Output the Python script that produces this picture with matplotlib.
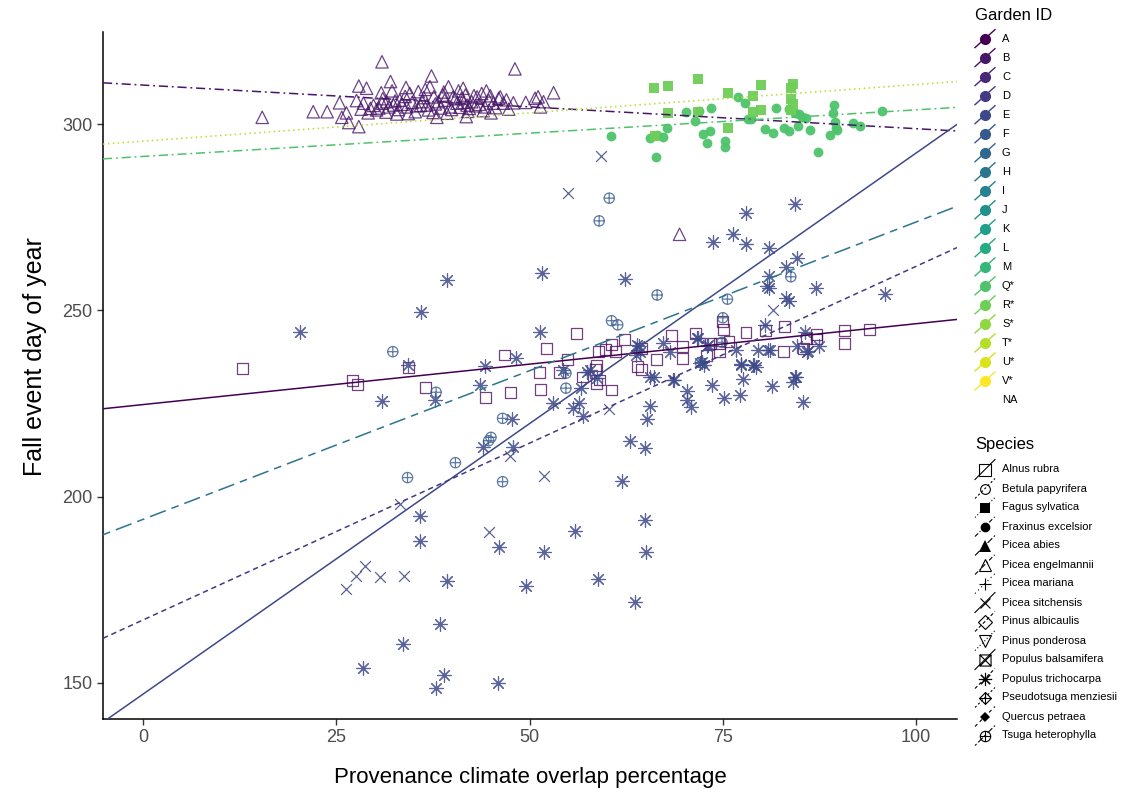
import numpy as np
import matplotlib
matplotlib.use("Agg")
import matplotlib.pyplot as plt
from matplotlib.path import Path
from matplotlib.lines import Line2D
from matplotlib.markers import MarkerStyle

plt.rcParams['font.family'] = ['Liberation Sans', 'DejaVu Sans']

# ---------------- data ----------------
gardens = ["A", "B", "C", "D", "E", "F", "G", "H", "I", "J", "K", "L", "M",
           "Q*", "R*", "S*", "T*", "U*", "V*"]
species = ["Alnus rubra", "Betula papyrifera", "Fagus sylvatica", "Fraxinus excelsior",
           "Picea abies", "Picea engelmannii", "Picea mariana", "Picea sitchensis",
           "Pinus albicaulis", "Pinus ponderosa", "Populus balsamifera",
           "Populus trichocarpa", "Pseudotsuga menziesii", "Quercus petraea",
           "Tsuga heterophylla"]

x_ticks = [0, 25, 50, 75, 100]
y_ticks = [150, 200, 250, 300]

# Picea engelmannii (garden B)
engelmannii_x = [15.4, 22.0, 23.8, 25.4, 26.3, 25.7, 26.6, 27.9, 27.9, 28.9,
                 27.6, 28.5, 30.9, 32.0, 29.4, 30.2, 30.9, 31.5, 32.4, 32.8,
                 33.2, 34.1, 34.5, 35.2, 35.6, 36.1, 36.7, 37.1, 37.3, 37.6,
                 38.2, 38.8, 39.5, 39.7, 40.1, 40.6, 41.2, 41.7, 41.9, 42.5,
                 43.2, 43.8, 44.2, 44.7, 45.3, 46.0, 46.2, 47.9, 48.1, 50.7,
                 51.1, 51.4, 53.1, 69.4,
                 29.8, 30.5, 31.0, 31.8, 32.6, 33.5, 33.9, 34.8, 35.4, 36.3,
                 36.9, 37.8, 38.5, 39.0, 39.9, 40.4, 41.0, 41.5, 42.2, 42.8,
                 43.5, 44.0, 44.9, 45.6, 46.6, 47.3, 33.0, 35.9, 38.9, 40.8,
                 43.0, 31.4, 34.3, 37.5, 39.3, 42.0, 45.0, 36.5, 41.4, 44.4,
                 29.1, 30.8, 28.2, 32.2, 47.0, 49.5, 51.8, 34.0, 38.0, 41.8]
engelmannii_y = [301.8, 303.3, 303.3, 305.7, 303.0, 301.8, 300.4, 299.3, 310.2, 309.6,
                 306.3, 305.6, 316.7, 311.4, 304.2, 303.8, 305.6, 306.0, 305.1, 302.7,
                 306.4, 304.6, 308.2, 303.3, 308.7, 306.0, 305.1, 310.0, 312.9, 307.3,
                 306.0, 307.8, 310.0, 304.6, 307.3, 305.6, 306.9, 307.8, 305.1, 306.0,
                 307.3, 308.2, 304.6, 306.4, 305.6, 306.9, 307.3, 305.7, 314.8, 306.9,
                 307.3, 304.6, 308.4, 270.4,
                 305.0, 304.3, 306.8, 304.6, 306.2, 305.3, 307.4, 305.8, 304.9, 307.1,
                 303.8, 305.4, 304.3, 306.4, 303.9, 306.8, 304.5, 305.8, 304.2, 307.6,
                 305.3, 303.6, 307.6, 304.4, 305.6, 304.0, 303.9, 305.0, 308.6, 308.9,
                 304.9, 303.2, 302.8, 303.1, 302.9, 303.4, 303.0, 309.3, 309.6, 308.9,
                 303.0, 308.4, 304.0, 308.9, 306.5, 305.8, 306.0, 309.8, 301.8, 302.0]

# Fraxinus excelsior (garden Q*)
fraxinus_x = [60.5, 65.6, 66.5, 67.2, 66.3, 67.8, 70.2, 71.4, 71.9, 73.5,
              72.4, 73.4, 72.9, 75.3, 75.3, 76.9, 77.9, 78.3, 78.7, 80.4,
              81.5, 81.9, 82.9, 83.6, 83.5, 84.3, 84.8, 85.3, 85.8, 84.7,
              86.3, 87.3, 88.9, 89.4, 89.3, 89.5, 89.7, 89.8, 91.9, 92.8, 95.6]
fraxinus_y = [296.8, 296.2, 297.1, 296.4, 291.1, 299.0, 303.1, 300.8, 303.6, 304.4,
              297.2, 298.1, 295.0, 295.4, 293.9, 307.2, 305.7, 301.3, 301.3, 298.7,
              297.5, 304.4, 299.0, 298.2, 304.0, 302.9, 302.6, 302.0, 301.5, 299.5,
              298.4, 292.6, 297.1, 305.1, 303.0, 300.6, 298.8, 298.4, 300.3, 299.5, 303.5]

# Fagus sylvatica (garden R*)
fagus_x = [66.1, 67.9, 71.8, 75.7, 67.9, 71.8, 66.2, 75.7, 78.9, 79.9,
           78.9, 79.9, 83.8, 84.1, 83.8, 84.1, 83.8]
fagus_y = [309.8, 310.2, 312.1, 308.2, 302.9, 303.3, 296.8, 298.8, 307.6, 310.5,
           303.1, 303.8, 309.6, 310.7, 306.6, 305.3, 303.8]

# Alnus rubra (garden A)
alnus_x = [12.9, 27.1, 27.7, 34.3, 36.5, 44.3, 46.8, 47.5, 52.2, 56.1,
           51.3, 51.4, 53.9, 54.9, 56.9, 58.5, 58.7, 59.1, 60.6, 58.9,
           59.8, 60.6, 61.1, 62.3, 58.7, 63.9, 64.5, 64.5, 66.4, 68.4,
           69.8, 69.8, 71.5, 72.9, 73.4, 74.6, 74.6, 75.1, 75.0, 75.8,
           78.0, 80.5, 82.8, 83.0, 85.4, 85.8, 87.1, 87.1, 90.8, 90.8, 94.0]
alnus_y = [234.4, 231.1, 230.0, 234.7, 229.3, 226.6, 238.0, 227.9, 239.8, 243.8,
           233.3, 228.8, 233.3, 236.7, 232.1, 234.0, 230.4, 231.3, 228.6, 238.9,
           239.4, 240.7, 238.9, 242.1, 235.3, 234.9, 234.0, 239.8, 236.9, 243.2,
           240.4, 237.1, 243.7, 237.8, 241.2, 241.2, 238.9, 244.9, 247.0, 241.6,
           244.0, 244.5, 238.9, 245.6, 239.8, 242.5, 243.6, 242.3, 244.7, 241.0, 244.9]

# Populus trichocarpa (garden E)
trichocarpa_x = [20.3, 35.9, 39.3, 34.3, 30.9, 37.7, 44.2, 43.6, 48.3, 47.7,
                 44.0, 47.9, 51.3, 54.3, 53.0, 55.6, 51.6, 62.4, 78.0, 84.3,
                 76.3, 73.7, 78.0, 81.0, 84.6, 83.2, 81.0, 80.7, 81.0, 83.2,
                 83.5, 87.1, 96.0, 80.5, 85.6, 71.6, 63.9, 67.3, 64.3, 68.2,
                 73.1, 76.7, 79.6, 81.1, 84.6, 85.9, 87.5, 56.4, 56.9, 56.7,
                 57.8, 58.7, 63.8, 65.6, 68.7, 70.3, 70.3, 70.9, 65.6, 65.2,
                 72.1, 72.5, 73.6, 75.2, 77.2, 77.3, 77.6, 79.0, 79.3, 81.4,
                 84.1, 84.5, 85.4, 63.0, 64.9, 35.8, 35.8, 46.1, 39.3, 49.5,
                 38.4, 33.6, 28.4, 38.9, 37.9, 45.9, 61.9, 64.9, 55.9, 51.9,
                 65.1, 58.8, 63.6, 57.4, 64.2, 66.1, 68.6, 71.8, 72.3, 72.9,
                 77.4, 78.9, 80.9, 86.0, 84.3]
trichocarpa_y = [244.1, 249.6, 258.1, 235.3, 225.7, 226.0, 235.1, 230.0, 237.1, 220.8,
                 213.4, 213.4, 244.3, 234.0, 225.1, 223.7, 260.0, 258.4, 276.2, 278.5,
                 270.5, 268.4, 267.8, 266.7, 264.0, 261.7, 259.2, 256.6, 255.9, 253.2,
                 252.6, 256.1, 254.3, 246.1, 244.3, 242.5, 240.7, 241.2, 238.7, 238.7,
                 240.7, 239.4, 239.4, 239.4, 240.3, 238.9, 240.3, 225.1, 221.5, 229.1,
                 234.0, 231.8, 238.0, 232.1, 231.3, 228.4, 225.8, 224.1, 224.4, 220.9,
                 235.8, 235.3, 230.0, 226.4, 227.3, 235.3, 231.5, 235.3, 234.9, 229.7,
                 230.7, 232.2, 225.4, 214.8, 213.0, 194.8, 188.2, 186.4, 177.4, 176.0,
                 165.8, 160.4, 154.1, 152.0, 148.6, 149.9, 204.2, 193.8, 190.8, 185.1,
                 185.1, 177.9, 171.6, 233.5, 240.3, 232.1, 231.3, 242.5, 236.0, 240.3,
                 235.6, 235.3, 239.4, 239.1, 232.1]

# Picea sitchensis (garden E)
sitchensis_x = [59.3, 55.0, 81.5, 60.3, 26.3, 27.6, 28.7, 30.6, 33.8, 33.2, 44.8, 47.5, 51.9]
sitchensis_y = [291.4, 281.6, 250.1, 223.5, 175.2, 178.6, 181.5, 178.3, 178.7, 198.0, 190.4, 210.9, 205.6]

# Tsuga heterophylla (garden F)
tsuga_x = [32.3, 37.9, 46.5, 44.7, 45.0, 60.3, 59.0, 66.5, 75.6, 75.0,
           83.8, 60.6, 61.4, 54.7, 54.7, 74.9, 34.2, 40.4, 46.5, 72.1]
tsuga_y = [238.9, 228.0, 221.0, 215.0, 215.9, 280.1, 274.0, 254.1, 253.0, 248.0,
           259.0, 247.2, 246.1, 233.1, 229.1, 241.4, 205.1, 209.1, 204.0, 236.0]

# fitted lines (species / garden / intercept / slope)
fit_species = ["Alnus rubra", "Picea engelmannii", "Picea sitchensis", "Populus trichocarpa",
               "Tsuga heterophylla", "Fraxinus excelsior", "Fagus sylvatica"]
fit_garden = ["A", "B", "E", "D", "H", "Q*", "T*"]
fit_intercept = [224.7, 310.45, 147.0, 166.9, 193.9, 291.3, 295.4]
fit_slope = [0.217, -0.117, 1.452, 0.949, 0.798, 0.125, 0.152]

# ---------------- styling helpers ----------------
garden_colors = {g: plt.cm.viridis(i / (len(gardens) - 1)) for i, g in enumerate(gardens)}

plus_path = Path([(-1, 0), (1, 0), (0, -1), (0, 1)],
                 [Path.MOVETO, Path.LINETO, Path.MOVETO, Path.LINETO])
circle_plus = Path.make_compound_path(Path.unit_circle(), plus_path)
sq = Path([(-1, -1), (1, -1), (1, 1), (-1, 1), (-1, -1)],
          [Path.MOVETO, Path.LINETO, Path.LINETO, Path.LINETO, Path.CLOSEPOLY])
xpath = Path([(-1, -1), (1, 1), (-1, 1), (1, -1)],
             [Path.MOVETO, Path.LINETO, Path.MOVETO, Path.LINETO])
square_x = Path.make_compound_path(sq, xpath)
dia = Path([(0, -1), (1, 0), (0, 1), (-1, 0), (0, -1)],
           [Path.MOVETO, Path.LINETO, Path.LINETO, Path.LINETO, Path.CLOSEPOLY])
diamond_plus = Path.make_compound_path(dia, plus_path)
asterisk = (8, 2, 0)

species_markers = ['s', 'o', 's', 'o', '^', '^', '+', 'x', 'D', 'v',
                   square_x, asterisk, diamond_plus, 'D', circle_plus]
species_filled = [False, False, True, True, True, False, False, False, False, False,
                  False, False, False, True, False]
species_msize = [8, 7, 7.5, 7, 8, 8.5, 9, 7.5, 7.5, 8, 8, 9.5, 8.5, 5, 7.5]
species_dash = ['solid', (0, (2, 2)), (0, (1, 2)), (0, (4, 2, 1, 2)), (0, (6, 2)),
                (0, (4, 2, 1, 2)), (0, (1, 3)), 'solid', (0, (3, 2)), (0, (1, 2)),
                'solid', (0, (3, 2)), (0, (2, 2)), (0, (3, 3)), (0, (2, 2, 6, 2))]
fit_dash = {"Alnus rubra": 'solid',
            "Picea engelmannii": (0, (6, 2.5, 1.2, 2.5)),
            "Picea sitchensis": 'solid',
            "Populus trichocarpa": (0, (3.5, 2.5)),
            "Tsuga heterophylla": (0, (5, 4, 11, 4)),
            "Fraxinus excelsior": (0, (6, 2.5, 1.2, 2.5)),
            "Fagus sylvatica": (0, (1, 2.2))}

# ---------------- figure ----------------
W, H = 1143, 792
fig = plt.figure(figsize=(W / 100, H / 100), dpi=100)
ax = fig.add_axes([103 / W, 1 - 719 / H, (957 - 103) / W, (719 - 32) / H])
ax.set_xlim(-5.2, 105.3)
ax.set_ylim(140.3, 324.7)


def pts(xs, ys, sp, garden, s, alpha, lw=0.9):
    i = species.index(sp)
    col = garden_colors[garden]
    mk = species_markers[i]
    if species_filled[i]:
        ax.scatter(xs, ys, s=s, marker=mk, color=col, alpha=alpha,
                   linewidths=0, zorder=2)
    elif not MarkerStyle(mk).is_filled():
        ax.scatter(xs, ys, s=s, marker=mk, color=col, alpha=alpha,
                   linewidths=lw, zorder=2)
    else:
        ax.scatter(xs, ys, s=s, marker=mk, facecolors='none',
                   edgecolors=[col], alpha=alpha, linewidths=lw, zorder=2)


pts(alnus_x, alnus_y, "Alnus rubra", "A", 62, 0.75)
pts(trichocarpa_x, trichocarpa_y, "Populus trichocarpa", "E", 95, 0.85, lw=0.85)
pts(sitchensis_x, sitchensis_y, "Picea sitchensis", "E", 60, 0.85)
pts(tsuga_x, tsuga_y, "Tsuga heterophylla", "F", 55, 0.8)
pts(engelmannii_x, engelmannii_y, "Picea engelmannii", "B", 80, 0.8)
pts(fraxinus_x, fraxinus_y, "Fraxinus excelsior", "Q*", 50, 0.95)
pts(fagus_x, fagus_y, "Fagus sylvatica", "R*", 52, 0.95)

for sp, g, b, m in zip(fit_species, fit_garden, fit_intercept, fit_slope):
    ax.axline((0, b), slope=m, color=garden_colors[g], linestyle=fit_dash[sp],
              linewidth=1.1, zorder=3)

for side in ['top', 'right']:
    ax.spines[side].set_visible(False)
for side in ['left', 'bottom']:
    ax.spines[side].set_color('black')
    ax.spines[side].set_linewidth(1.1)
ax.set_xticks(x_ticks)
ax.set_yticks(y_ticks)
ax.tick_params(axis='both', colors='#333333', labelcolor='#4d4d4d', labelsize=13,
               length=4, width=1.0)
ax.set_xlabel("Provenance climate overlap percentage", fontsize=16, labelpad=15)
ax.set_ylabel("Fall event day of year", fontsize=18)
ax.yaxis.set_label_coords(-0.066, 0.527)


# ---------------- legends (drawn in figure pixel space) ----------------
def fx(px):
    return px / W


def fy(py):
    return 1 - py / H


fig.text(fx(975), fy(15), "Garden ID", fontsize=12, va='center', ha='left')
g0, gstep = 38.6, 19.02
for i, g in enumerate(gardens):
    yc = g0 + i * gstep
    col = garden_colors[g]
    fig.add_artist(Line2D([fx(975), fx(995)], [fy(yc + 9), fy(yc - 9)],
                          transform=fig.transFigure, color=col, lw=1.0))
    fig.add_artist(Line2D([fx(985)], [fy(yc)], transform=fig.transFigure,
                          marker='o', markersize=7, color=col, lw=0))
    fig.text(fx(1002), fy(yc), g, fontsize=8, va='center', ha='left')
fig.text(fx(1002), fy(g0 + len(gardens) * gstep), "NA", fontsize=8, va='center', ha='left')

fig.text(fx(975), fy(445), "Species", fontsize=12, va='center', ha='left')
s0, sstep = 469.5, 19.0
for i, sp in enumerate(species):
    yc = s0 + i * sstep
    fig.add_artist(Line2D([fx(975), fx(995)], [fy(yc + 10), fy(yc - 10)],
                          transform=fig.transFigure, color='black', lw=0.8,
                          linestyle=species_dash[i]))
    if species_filled[i]:
        fig.add_artist(Line2D([fx(985)], [fy(yc)], transform=fig.transFigure,
                              marker=species_markers[i], markersize=species_msize[i],
                              color='black', lw=0, markeredgewidth=0))
    else:
        fig.add_artist(Line2D([fx(985)], [fy(yc)], transform=fig.transFigure,
                              marker=species_markers[i], markersize=species_msize[i],
                              markerfacecolor='none', markeredgecolor='black',
                              markeredgewidth=0.8, lw=0))
    fig.text(fx(1002), fy(yc), sp, fontsize=8, va='center', ha='left')

fig.savefig("out.png", dpi=100, facecolor='white')
